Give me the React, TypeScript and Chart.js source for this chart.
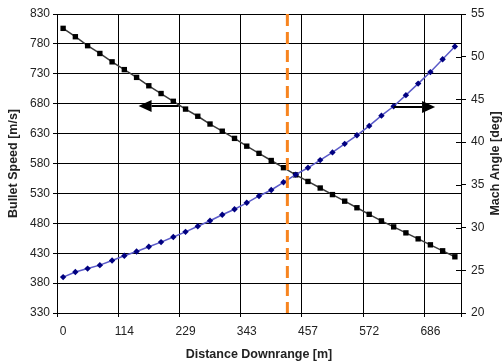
import { useEffect, useRef } from 'react';
import { Chart, registerables } from 'chart.js';

Chart.register(...registerables);

// Distance downrange [m] (25 yd steps)
const distances = [0, 23, 46, 69, 91, 114, 137, 160, 183, 206, 229, 251, 274, 297, 320, 343, 366, 389, 411, 434, 457, 480, 503, 526, 549, 572, 594, 617, 640, 663, 686, 709, 732];
const xTickLabels = ['0', '114', '229', '343', '457', '572', '686'];
// Bullet speed [m/s]
const bulletSpeed = [806, 792, 777, 764, 750, 737, 724, 710, 697, 684, 671, 659, 646, 634, 622, 609, 597, 585, 573, 561, 550, 539, 528, 517, 506, 495, 484, 474, 464, 454, 444, 434, 424];
// Mach angle [deg]
const machAngle = [24.2, 24.8, 25.2, 25.6, 26.15, 26.7, 27.2, 27.75, 28.3, 28.9, 29.5, 30.15, 30.8, 31.5, 32.15, 32.9, 33.7, 34.4, 35.3, 36.2, 37.0, 37.9, 38.8, 39.8, 40.8, 41.9, 43.1, 44.2, 45.5, 46.85, 48.2, 49.7, 51.2];
// Annotations (data units)
const markerDistance = 419;
const speedArrow = { fromM: 216, toM: 141, value: 676 };
const angleArrow = { fromM: 618, toM: 695, value: 44.1 };

const FONT = "'Liberation Sans', Arial, sans-serif";
const TEXT = '#222';

function drawArrow(ctx: CanvasRenderingContext2D, x0: number, yv: number, x1: number) {
  const dir = x1 > x0 ? 1 : -1;
  const headLen = 13;
  const half = 6;
  const y = Math.round(yv);
  ctx.strokeStyle = '#000';
  ctx.fillStyle = '#000';
  ctx.lineWidth = 2;
  ctx.beginPath();
  ctx.moveTo(x0, y);
  ctx.lineTo(x1 - dir * headLen, y);
  ctx.stroke();
  ctx.beginPath();
  ctx.moveTo(x1, y);
  ctx.lineTo(x1 - dir * headLen, y - half);
  ctx.lineTo(x1 - dir * headLen, y + half);
  ctx.closePath();
  ctx.fill();
}

const overlay = {
  id: 'overlay',
  afterDatasetsDraw(chart: any) {
    const { ctx, chartArea, scales } = chart;
    const x = scales.x;
    const y = scales.y;
    const y2 = scales.y2;
    const step = distances[distances.length - 1] / (distances.length - 1);
    const px = (m: number) => x.getPixelForValue(m / step);
    ctx.save();
    // orange dashed marker
    ctx.strokeStyle = '#f7841f';
    ctx.lineWidth = 3;
    ctx.setLineDash([12, 6]);
    const ox = px(markerDistance);
    ctx.beginPath();
    ctx.moveTo(ox, chartArea.top);
    ctx.lineTo(ox, chartArea.bottom);
    ctx.stroke();
    ctx.setLineDash([]);
    // arrows
    drawArrow(ctx, px(speedArrow.fromM), y.getPixelForValue(speedArrow.value), px(speedArrow.toM));
    drawArrow(ctx, px(angleArrow.fromM), y2.getPixelForValue(angleArrow.value), px(angleArrow.toM));
    // inner tick marks on right axis
    ctx.strokeStyle = '#000';
    ctx.lineWidth = 1;
    y2.ticks.forEach((_t: any, i: number) => {
      const yy = Math.round(y2.getPixelForTick(i)) + 0.5;
      ctx.beginPath();
      ctx.moveTo(chartArea.right - 5, yy);
      ctx.lineTo(chartArea.right, yy);
      ctx.stroke();
    });
    ctx.restore();
  },
  afterDraw(chart: any) {
    const { ctx, chartArea } = chart;
    ctx.save();
    ctx.translate(496, (chartArea.top + chartArea.bottom) / 2);
    ctx.rotate(-Math.PI / 2);
    ctx.font = `bold 12.5px ${FONT}`;
    ctx.fillStyle = TEXT;
    ctx.textAlign = 'center';
    ctx.textBaseline = 'middle';
    ctx.fillText('Mach Angle [deg]', 0, 0);
    ctx.restore();
  },
};

export default function App() {
  const ref = useRef<HTMLCanvasElement | null>(null);
  useEffect(() => {
    if (!ref.current) return;
    const chart = new Chart(ref.current, {
      type: 'line',
      data: {
        labels: distances.map(String),
        datasets: [
          {
            label: 'Mach Angle',
            data: machAngle,
            yAxisID: 'y2',
            borderColor: '#5a5ac8',
            borderWidth: 1.5,
            pointStyle: 'rectRot',
            pointRadius: 3.2,
            pointBackgroundColor: '#000080',
            pointBorderColor: '#000080',
            pointBorderWidth: 0,
            tension: 0,
            order: 0,
          },
          {
            label: 'Bullet Speed',
            data: bulletSpeed,
            yAxisID: 'y',
            borderColor: '#3a3a3a',
            borderWidth: 1.5,
            pointStyle: 'rect',
            pointRadius: 3.8,
            pointBackgroundColor: '#000',
            pointBorderColor: '#000',
            pointBorderWidth: 0,
            tension: 0,
            order: 1,
          },
        ],
      },
      options: {
        responsive: false,
        animation: false,
        layout: { padding: { top: 14, left: 0, right: 0, bottom: 0 } },
        plugins: { legend: { display: false }, tooltip: { enabled: false } },
        scales: {
          x: {
            type: 'category',
            offset: true,
            grid: {
              offset: true,
              color: (c: any) => (c.type === 'tick' && c.index % 5 !== 0 ? 'rgba(0,0,0,0)' : '#000'),
              lineWidth: 1,
              tickLength: 4,
            },
            border: { display: true, color: '#000', width: 1 },
            ticks: {
              autoSkip: false,
              maxRotation: 0,
              padding: 7,
              color: TEXT,
              font: { family: FONT, size: 12 },
              callback: (_v: any, i: number) => (i % 5 === 0 ? xTickLabels[i / 5] : ''),
            },
            title: {
              display: true,
              text: 'Distance Downrange [m]',
              color: TEXT,
              font: { family: FONT, size: 12.5, weight: 'bold' },
              padding: { top: 0, bottom: 1.5 },
            },
            afterFit: (s: any) => { s.height = 51; },
          },
          y: {
            position: 'left',
            min: 330,
            max: 830,
            ticks: { stepSize: 50, color: TEXT, padding: 3, font: { family: FONT, size: 12 } },
            grid: { color: '#000', lineWidth: 1, tickLength: 4 },
            border: { display: true, color: '#000', width: 1 },
            title: {
              display: true,
              text: 'Bullet Speed [m/s]',
              color: TEXT,
              font: { family: FONT, size: 12.5, weight: 'bold' },
              padding: { top: 6.5, bottom: 0 },
            },
            afterFit: (s: any) => { s.width = 57; },
          },
          y2: {
            position: 'right',
            min: 20,
            max: 55,
            ticks: { stepSize: 5, color: TEXT, padding: 5, font: { family: FONT, size: 12 } },
            grid: { drawOnChartArea: false, color: '#000', tickLength: 5 },
            border: { display: true, color: '#000', width: 1 },
            afterFit: (s: any) => { s.width = 41; },
          },
        },
      },
      plugins: [overlay],
    });
    return () => chart.destroy();
  }, []);
  return (
    <div style={{ position: 'fixed', left: 0, top: 0, width: 502, height: 364, background: '#fff' }}>
      <canvas ref={ref} width={502} height={364} style={{ width: 502, height: 364, display: 'block' }} />
    </div>
  );
}
